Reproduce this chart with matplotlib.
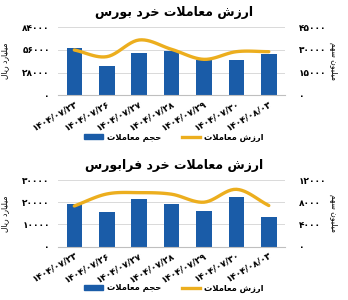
import matplotlib
matplotlib.use('Agg')
import matplotlib.pyplot as plt
import numpy as np
from matplotlib.ticker import FuncFormatter, MultipleLocator
from matplotlib.patches import Patch
from matplotlib.lines import Line2D

# data
dates = ['1404/07/23', '1404/07/26', '1404/07/27', '1404/07/28',
         '1404/07/29', '1404/07/30', '1404/08/03']

bourse_volume = [31500, 19500, 28200, 29500, 23300, 23300, 27300]      # million shares
bourse_value = [55900, 47600, 68300, 56700, 44300, 53800, 53800]       # billion rials
farabourse_volume = [7600, 6300, 8500, 7700, 6500, 8900, 5300]
farabourse_value = [18300, 23700, 24300, 23600, 20000, 25800, 18500]

titles = ['ارزش معاملات خرد بورس', 'ارزش معاملات خرد فرابورس']
legend_bar = 'حجم معاملات'
legend_line = 'ارزش معاملات'
left_unit = 'میلیارد ریال'
right_unit = 'میلیون سهم'

BLUE = '#1a5ca8'
GOLD = '#ecae1e'

# ---- minimal persian shaping (matplotlib has no bidi / joining) ----
FORMS = {
    'ا': ('\uFE8D', '\uFE8E'),
    'ب': ('\uFE8F', '\uFE90', '\uFE91', '\uFE92'),
    'ت': ('\uFE95', '\uFE96', '\uFE97', '\uFE98'),
    'ج': ('\uFE9D', '\uFE9E', '\uFE9F', '\uFEA0'),
    'ح': ('\uFEA1', '\uFEA2', '\uFEA3', '\uFEA4'),
    'خ': ('\uFEA5', '\uFEA6', '\uFEA7', '\uFEA8'),
    'د': ('\uFEA9', '\uFEAA'),
    'ر': ('\uFEAD', '\uFEAE'),
    'ز': ('\uFEAF', '\uFEB0'),
    'س': ('\uFEB1', '\uFEB2', '\uFEB3', '\uFEB4'),
    'ش': ('\uFEB5', '\uFEB6', '\uFEB7', '\uFEB8'),
    'ع': ('\uFEC9', '\uFECA', '\uFECB', '\uFECC'),
    'ف': ('\uFED1', '\uFED2', '\uFED3', '\uFED4'),
    'ل': ('\uFEDD', '\uFEDE', '\uFEDF', '\uFEE0'),
    'م': ('\uFEE1', '\uFEE2', '\uFEE3', '\uFEE4'),
    'ن': ('\uFEE5', '\uFEE6', '\uFEE7', '\uFEE8'),
    'ه': ('\uFEE9', '\uFEEA', '\uFEEB', '\uFEEC'),
    'و': ('\uFEED', '\uFEEE'),
    'ی': ('\uFEEF', '\uFEF0', '\uFEF3', '\uFEF4'),
}


def fa(s):
    res = []
    i = 0
    n = len(s)
    while i < n:
        c = s[i]
        prev = s[i-1] if i > 0 else ''
        joins_prev = prev in FORMS and len(FORMS[prev]) == 4
        if c == 'ل' and i + 1 < n and s[i+1] == 'ا':
            res.append('\uFEFC' if joins_prev else '\uFEFB')
            i += 2
            continue
        if c not in FORMS:
            res.append(c)
            i += 1
            continue
        f = FORMS[c]
        nxt = s[i+1] if i + 1 < n else ''
        joins_next = len(f) == 4 and nxt in FORMS
        if joins_prev and joins_next:
            res.append(f[3])
        elif joins_prev:
            res.append(f[1])
        elif joins_next:
            res.append(f[2])
        else:
            res.append(f[0])
        i += 1
    return ''.join(res)[::-1]


DIGITS = str.maketrans('0123456789', '۰۱۲۳۴۵۶۷۸۹')


def fa_num(v, pos=None):
    return str(int(round(v))).translate(DIGITS)


def smooth(x, y, k=12):
    # catmull-rom through the points, like excel's smoothed line
    x = np.asarray(x, float)
    y = np.asarray(y, float)
    px = np.concatenate([[2*x[0]-x[1]], x, [2*x[-1]-x[-2]]])
    py = np.concatenate([[2*y[0]-y[1]], y, [2*y[-1]-y[-2]]])
    xs, ys = [], []
    t = np.linspace(0, 1, k, endpoint=False)
    for i in range(1, len(px)-2):
        for p, out in ((px, xs), (py, ys)):
            p0, p1, p2, p3 = p[i-1], p[i], p[i+1], p[i+2]
            out.extend(0.5*((2*p1) + (-p0+p2)*t + (2*p0-5*p1+4*p2-p3)*t**2
                            + (-p0+3*p1-3*p2+p3)*t**3))
    xs.append(x[-1])
    ys.append(y[-1])
    return xs, ys


plt.rcParams['font.family'] = ['DejaVu Sans']
plt.rcParams['font.weight'] = 'bold'

fig = plt.figure(figsize=(3.48, 3.0), dpi=100)

panels = [
    dict(vol=bourse_volume, val=bourse_value, lmax=84000, lstep=28000,
         rmax=45000, rstep=15000, rect=[0.167, 0.683, 0.652, 0.226],
         title_y=0.958, leg_y=0.543),
    dict(vol=farabourse_volume, val=farabourse_value, lmax=30000, lstep=10000,
         rmax=12000, rstep=4000, rect=[0.167, 0.178, 0.652, 0.222],
         title_y=0.448, leg_y=0.040),
]

xpos = np.arange(len(dates))
xlabels = [d.translate(DIGITS) for d in dates]

for p, title in zip(panels, titles):
    ax = fig.add_axes(p['rect'])
    ax2 = ax.twinx()
    ax.set_zorder(ax2.get_zorder() + 1)
    ax.patch.set_visible(False)

    ax2.bar(xpos, p['vol'], width=0.48, color=BLUE, zorder=2)
    ax2.set_ylim(0, p['rmax'])
    ax2.yaxis.set_major_locator(MultipleLocator(p['rstep']))
    ax2.yaxis.set_major_formatter(FuncFormatter(fa_num))
    ax2.grid(axis='y', color='#d9d9d9', linewidth=0.7, zorder=0)
    ax2.set_axisbelow(True)

    sx, sy = smooth(xpos, p['val'])
    ax.plot(sx, sy, color=GOLD, linewidth=2.4, solid_capstyle='round')
    ax.set_ylim(0, p['lmax'])
    ax.set_xlim(-0.5, len(dates) - 0.5)
    ax.yaxis.set_major_locator(MultipleLocator(p['lstep']))
    ax.yaxis.set_major_formatter(FuncFormatter(fa_num))

    ax.set_xticks(xpos)
    ax.set_xticklabels(xlabels, rotation=30, ha='right', rotation_mode='anchor',
                       fontsize=7.5, fontweight='bold')

    for a in (ax, ax2):
        for s in a.spines.values():
            s.set_visible(False)
        a.tick_params(length=0, labelsize=6.5)
    ax.spines['bottom'].set_visible(True)
    ax.spines['bottom'].set_color('#bfbfbf')
    ax.tick_params(axis='y', pad=6)
    ax2.tick_params(axis='y', pad=10)
    ax.tick_params(axis='x', pad=3)

    ax.set_ylabel(fa(left_unit), fontsize=5.5)
    ax.yaxis.set_label_coords(-0.215, 0.5)
    ax2.set_ylabel(fa(right_unit), fontsize=5.5, rotation=270, va='center')
    ax2.yaxis.set_label_coords(1.215, 0.5)

    fig.text(0.5, p['title_y'], fa(title), ha='center', va='center',
             fontsize=9, fontweight='bold')

    handles = [Patch(color=BLUE), Line2D([], [], color=GOLD, linewidth=2.4)]
    fig.legend(handles, [fa(legend_bar), fa(legend_line)], loc='center',
               bbox_to_anchor=(0.5, p['leg_y']), ncol=2, frameon=False,
               fontsize=6, handlelength=2.2, handleheight=0.6,
               columnspacing=2.5, handletextpad=0.5)

fig.savefig('out.png', dpi=100)
